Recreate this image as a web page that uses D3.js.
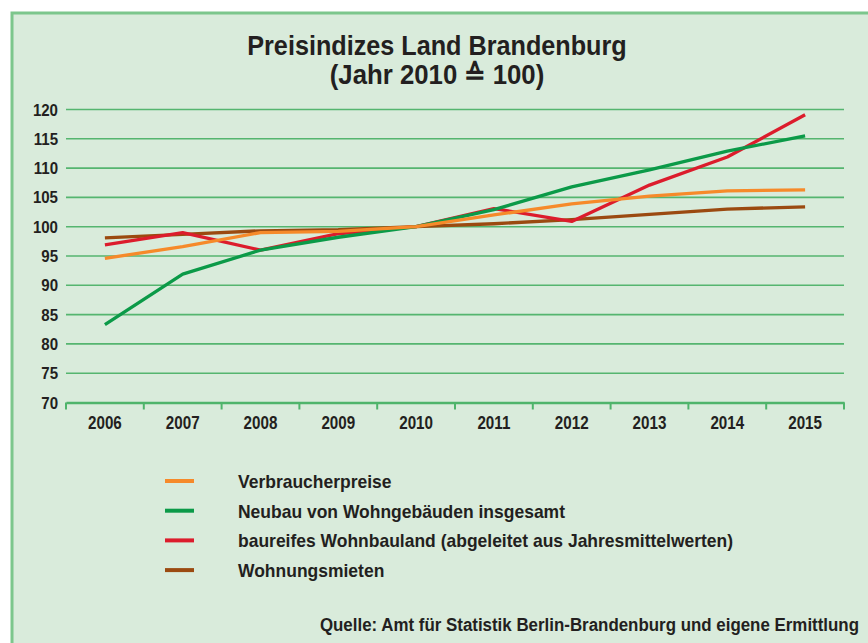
<!DOCTYPE html>
<html>
<head>
<meta charset="utf-8">
<script src="https://cdn.jsdelivr.net/npm/d3@7"></script>
<style>
  body { margin: 0; background: #fff; }
  text { font-family: "Liberation Sans", Arial, sans-serif; font-weight: bold; fill: #231f20; }
</style>
</head>
<body>
<div id="root"></div>
<script>
//DATA
const years = ["2006", "2007", "2008", "2009", "2010", "2011", "2012", "2013", "2014", "2015"];
const yTicks = [70, 75, 80, 85, 90, 95, 100, 105, 110, 115, 120];
const verbraucherpreise = [94.6, 96.6, 99.0, 99.2, 100, 102.0, 103.9, 105.2, 106.1, 106.3];
const neubau = [83.3, 91.9, 96.0, 98.2, 100, 102.9, 106.8, 109.7, 112.9, 115.5];
const bauland = [96.9, 99.0, 96.0, 98.8, 100, 103.1, 100.9, 107.1, 111.9, 119.1];
const mieten = [98.1, 98.7, 99.3, 99.5, 100, 100.5, 101.2, 102.1, 103.0, 103.4];
const seriesNames = [
  "Verbraucherpreise",
  "Neubau von Wohngebäuden insgesamt",
  "baureifes Wohnbauland (abgeleitet aus Jahresmittelwerten)",
  "Wohnungsmieten"
];

const series = [
  {name: seriesNames[0], values: verbraucherpreise, color: "#f68a2a"},
  {name: seriesNames[1], values: neubau, color: "#0b9a48"},
  {name: seriesNames[2], values: bauland, color: "#dc1c2c"},
  {name: seriesNames[3], values: mieten, color: "#9b4a10"}
];
// drawing order seen in the picture: brown, red, green, orange on top
const drawOrder = [3, 2, 1, 0];

//DIMENSIONS
const width = 868, height = 643;

// squeeze text a bit, the original uses a condensed face
function condense(sel, k) {
  sel.each(function() {
    const w = this.getComputedTextLength();
    d3.select(this).attr('textLength', w * k).attr('lengthAdjust', 'spacingAndGlyphs');
  });
}

let svg = d3.select('#root')
  .append('svg')
  .attr('width', width)
  .attr('height', height);

//PANEL
svg.append('rect')
  .attr('x', 12).attr('y', 13)
  .attr('width', 880).attr('height', 660)
  .attr('fill', '#d9ebdb')
  .attr('stroke', '#7cc68c')
  .attr('stroke-width', 3);

//TITLE
svg.append('text')
  .attr('x', 437).attr('y', 55)
  .attr('text-anchor', 'middle')
  .style('font-size', '28px')
  .text('Preisindizes Land Brandenburg')
  .call(condense, 0.9);
svg.append('text')
  .attr('x', 437).attr('y', 84)
  .attr('text-anchor', 'middle')
  .style('font-size', '28px')
  .text('(Jahr 2010 \u2259 100)')
  .call(condense, 0.92);

//SCALES
const x = d3.scaleBand().domain(years).range([66, 844]);
const y = d3.scaleLinear().domain([70, 120]).range([402.5, 109.5]);

//GRIDLINES
svg.append('g')
  .selectAll('line')
  .data(yTicks.filter(d => d > 70))
  .join('line')
  .attr('x1', 66).attr('x2', 844)
  .attr('y1', d => y(d)).attr('y2', d => y(d))
  .attr('stroke', '#55b56f')
  .attr('stroke-width', 1.6);

//Y LABELS
svg.append('g')
  .selectAll('text')
  .data(yTicks)
  .join('text')
  .attr('x', 58)
  .attr('y', d => y(d) + 6)
  .attr('text-anchor', 'end')
  .style('font-size', '16px')
  .text(d => d)
  .call(condense, 0.94);

//X AXIS
const xAxis = svg.append('g')
  .attr('transform', `translate(0, ${y(70)})`)
  .call(d3.axisBottom(x).tickSize(0).tickPadding(13));
xAxis.select('.domain').attr('stroke', '#4fb46b').attr('stroke-width', 2.5);
xAxis.selectAll('text')
  .style('font-family', '"Liberation Sans", Arial, sans-serif')
  .style('font-size', '19px')
  .style('font-weight', 'bold')
  .attr('fill', '#231f20')
  .call(condense, 0.8);

//band boundary ticks
svg.append('g')
  .selectAll('line')
  .data(d3.range(years.length + 1))
  .join('line')
  .attr('x1', i => x.range()[0] + i * x.step())
  .attr('x2', i => x.range()[0] + i * x.step())
  .attr('y1', y(70)).attr('y2', y(70) + 7)
  .attr('stroke', '#4fb46b')
  .attr('stroke-width', 2);

//LINES
const line = d3.line()
  .x((d, i) => x(years[i]) + x.bandwidth() / 2)
  .y(d => y(d));

svg.append('g')
  .selectAll('path')
  .data(drawOrder.map(i => series[i]))
  .join('path')
  .attr('fill', 'none')
  .attr('stroke', d => d.color)
  .attr('stroke-width', 3.3)
  .attr('stroke-linejoin', 'round')
  .attr('d', d => line(d.values));

//LEGEND
const legend = svg.append('g');
const rows = legend.selectAll('g')
  .data(series)
  .join('g')
  .attr('transform', (d, i) => `translate(0, ${481 + i * 29.7})`);
rows.append('line')
  .attr('x1', 165).attr('x2', 194)
  .attr('stroke', d => d.color)
  .attr('stroke-width', 4);
rows.append('text')
  .attr('x', 238).attr('y', 7)
  .style('font-size', '19px')
  .text(d => d.name)
  .call(condense, 0.92);

//SOURCE (squeezed with a transform so its box stays inside the page)
svg.append('g')
  .attr('transform', 'translate(859, 631) scale(0.89, 1)')
  .append('text')
  .attr('text-anchor', 'end')
  .style('font-size', '19px')
  .text('Quelle: Amt für Statistik Berlin-Brandenburg und eigene Ermittlung');
</script>
</body>
</html>
